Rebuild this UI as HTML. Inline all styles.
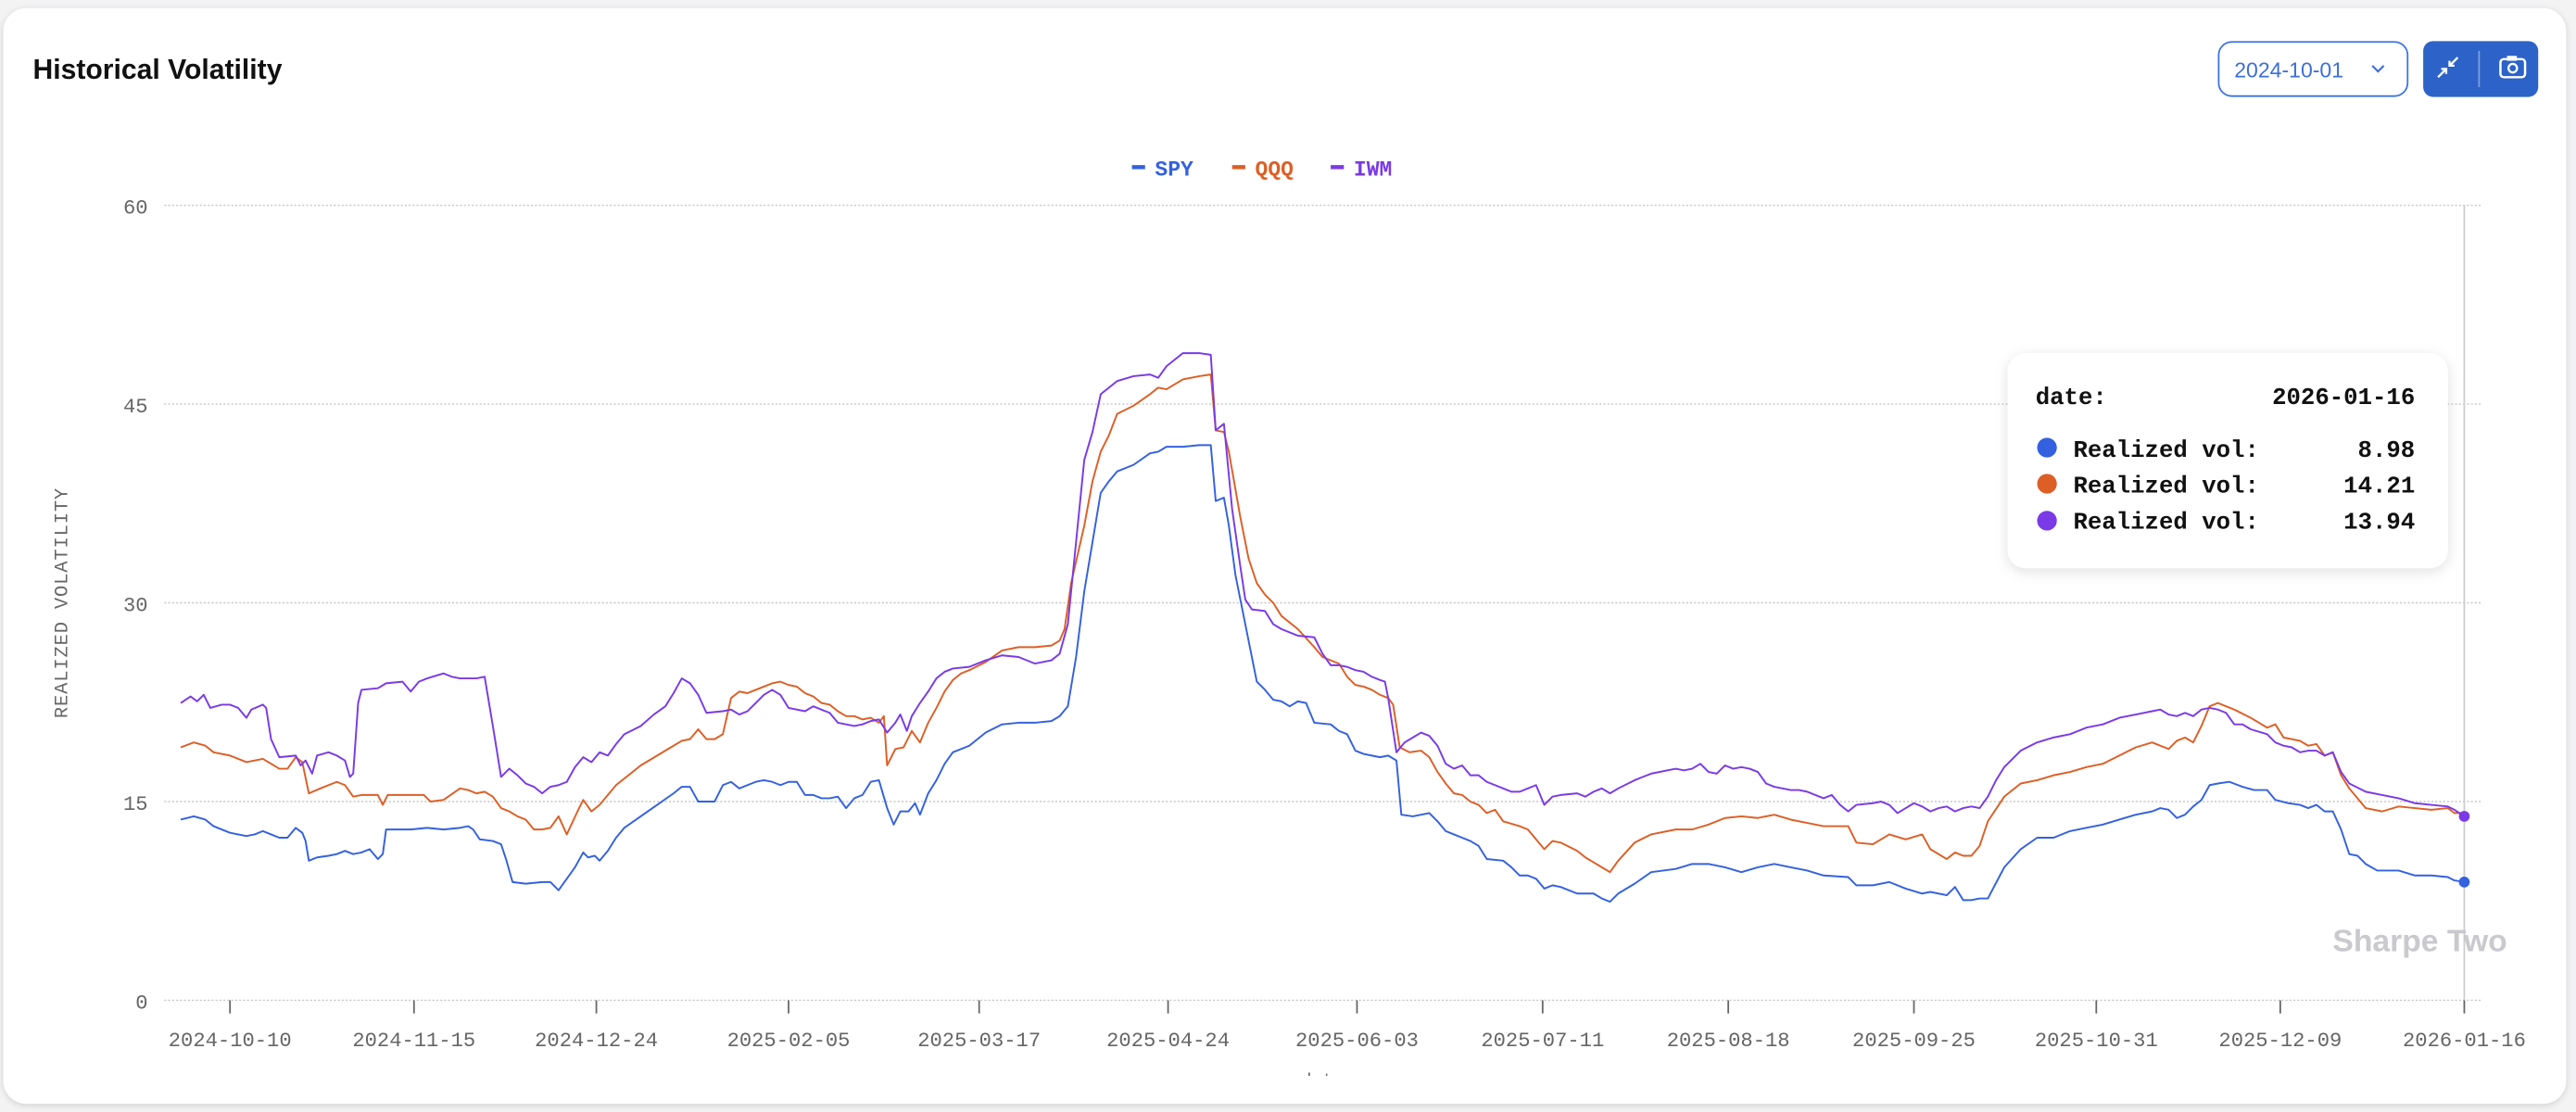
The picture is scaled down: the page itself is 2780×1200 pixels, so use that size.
<!DOCTYPE html>
<html><head><meta charset="utf-8"><style>
html,body{margin:0;padding:0;background:#fff;width:2780px;height:1200px;overflow:hidden}
svg{display:block}
</style></head><body>
<svg width="2780" height="1200" viewBox="0 0 1568 677" preserveAspectRatio="none" xmlns="http://www.w3.org/2000/svg">
<defs>
<filter id="sh" x="-10%" y="-10%" width="120%" height="130%"><feDropShadow dx="0" dy="2" stdDeviation="4" flood-color="#000" flood-opacity="0.12"/></filter>
<filter id="sh2" x="-5%" y="-5%" width="110%" height="110%"><feDropShadow dx="0" dy="1" stdDeviation="2" flood-color="#000" flood-opacity="0.15"/></filter>
<clipPath id="cl"><rect x="0" y="0" width="1568" height="655"/></clipPath>
</defs>
<rect x="0" y="0" width="1568" height="677" fill="#f3f3f4"/>
<rect x="2" y="5" width="1560" height="667" rx="14" fill="#fff" filter="url(#sh2)"/>
<text x="20" y="48" font-family="Liberation Sans, sans-serif" font-weight="bold" font-size="17" fill="#111">Historical Volatility</text>
<rect x="1350.5" y="25.5" width="115" height="33" rx="8" fill="#fff" stroke="#3c73e0" stroke-width="1"/>
<text x="1360" y="47" font-family="Liberation Sans, sans-serif" font-size="13" fill="#3c6fd8">2024-10-01</text>
<path d="M1444 40 l3.5 3.5 l3.5 -3.5" fill="none" stroke="#3c6fd8" stroke-width="1.2"/>
<rect x="1475" y="25" width="70" height="34" rx="6" fill="#2d63c8"/>
<line x1="1509" y1="31" x2="1509" y2="53" stroke="#7e9fe0" stroke-width="1"/>
<path d="M1484 47 l5 -5 M1486 42 h3 v3 M1496 35 l-5 5 M1494 40 h-3 v-3" stroke="#fff" stroke-width="1.3" fill="none"/>
<rect x="1522" y="36" width="15" height="11" rx="2" fill="none" stroke="#fff" stroke-width="1.4"/>
<rect x="1526" y="34" width="6" height="3" fill="#fff"/>
<circle cx="1529.5" cy="41.5" r="2.6" fill="none" stroke="#fff" stroke-width="1.3"/>
<g font-family="Liberation Mono, monospace" font-weight="bold" font-size="13">
<rect x="689" y="100.5" width="8" height="2.5" fill="#3461e0"/><text x="703" y="107" fill="#3461e0">SPY</text>
<rect x="750" y="100.5" width="8" height="2.5" fill="#dd5f26"/><text x="764" y="107" fill="#dd5f26">QQQ</text>
<rect x="810" y="100.5" width="8" height="2.5" fill="#7a3ae6"/><text x="824" y="107" fill="#7a3ae6">IWM</text>
</g>
<g stroke="#c8c8c8" stroke-width="0.8" stroke-dasharray="1.2 1.2">
<line x1="100" y1="125" x2="1510" y2="125"/><line x1="100" y1="246" x2="1510" y2="246"/>
<line x1="100" y1="367" x2="1510" y2="367"/><line x1="100" y1="488" x2="1510" y2="488"/>
<line x1="100" y1="609" x2="1510" y2="609"/>
</g>
<g font-family="Liberation Mono, monospace" font-size="12.5" fill="#666">
<text x="90" y="130" text-anchor="end">60</text><text x="90" y="251" text-anchor="end">45</text>
<text x="90" y="372" text-anchor="end">30</text><text x="90" y="493" text-anchor="end">15</text>
<text x="90" y="614" text-anchor="end">0</text>
</g>
<text transform="translate(41,367) rotate(-90)" text-anchor="middle" font-family="Liberation Mono, monospace" font-size="11.5" fill="#666" letter-spacing="0.5">REALIZED VOLATILITY</text>
<line x1="1500" y1="125" x2="1500" y2="612" stroke="#ccc" stroke-width="1"/>
<g stroke="#666" stroke-width="1">
<line x1="140" y1="609" x2="140" y2="617"/><line x1="252" y1="609" x2="252" y2="617"/><line x1="363" y1="609" x2="363" y2="617"/><line x1="480" y1="609" x2="480" y2="617"/><line x1="596" y1="609" x2="596" y2="617"/><line x1="711" y1="609" x2="711" y2="617"/><line x1="826" y1="609" x2="826" y2="617"/><line x1="939" y1="609" x2="939" y2="617"/><line x1="1052" y1="609" x2="1052" y2="617"/><line x1="1165" y1="609" x2="1165" y2="617"/><line x1="1276" y1="609" x2="1276" y2="617"/><line x1="1388" y1="609" x2="1388" y2="617"/><line x1="1500" y1="609" x2="1500" y2="617"/>
</g>
<g font-family="Liberation Mono, monospace" font-size="12.5" fill="#666" text-anchor="middle">
<text x="140" y="637">2024-10-10</text><text x="252" y="637">2024-11-15</text><text x="363" y="637">2024-12-24</text><text x="480" y="637">2025-02-05</text><text x="596" y="637">2025-03-17</text><text x="711" y="637">2025-04-24</text><text x="826" y="637">2025-06-03</text><text x="939" y="637">2025-07-11</text><text x="1052" y="637">2025-08-18</text><text x="1165" y="637">2025-09-25</text><text x="1276" y="637">2025-10-31</text><text x="1388" y="637">2025-12-09</text><text x="1500" y="637">2026-01-16</text>
<text x="805" y="661" font-size="11" clip-path="url(#cl)">date</text>
</g>
<text x="1473" y="579" text-anchor="middle" font-family="Liberation Sans, sans-serif" font-weight="bold" font-size="19" fill="#c9c9ce">Sharpe Two</text>
<g fill="none" stroke-width="1.1" stroke-linejoin="round">
<polyline stroke="#3461e0" points="110,499 118,497 125,499 130,503 140,507 150,509 155,508 160,506 165,508 170,510 175,510 180,504 184,507 186,512 188,524 193,522 200,521 205,520 210,518 215,520 220,519 225,517 230,523 233,520 235,505 240,505 250,505 260,504 270,505 280,504 285,503 288,505 292,511 300,512 305,514 308,523 312,537 320,538 330,537 335,537 340,542 345,535 350,528 355,519 358,522 362,521 365,524 370,518 375,510 380,504 390,497 400,490 410,483 415,479 420,479 425,488 430,488 435,488 440,478 445,476 450,480 455,478 460,476 465,475 470,476 475,478 480,476 485,476 490,484 495,484 500,486 505,486 510,485 515,492 520,486 525,484 530,476 535,475 540,492 544,502 548,494 553,494 557,489 560,496 565,483 570,475 575,465 580,458 590,454 595,450 600,446 610,441 620,440 630,440 640,439 645,436 650,430 655,400 660,360 665,330 670,300 675,293 680,287 690,283 700,276 705,275 710,272 720,272 730,271 737,271 740,305 745,303 748,320 752,350 760,390 765,415 770,420 775,426 780,427 785,430 790,427 795,428 800,440 810,441 815,445 820,447 825,457 830,459 835,460 840,461 845,460 850,463 853,496 860,497 865,496 870,495 875,500 880,506 885,508 890,510 895,512 900,515 905,523 915,524 920,528 925,533 930,533 935,535 940,541 945,539 950,540 960,544 970,544 975,547 980,549 985,544 995,538 1005,531 1020,529 1030,526 1040,526 1050,528 1060,531 1070,528 1080,526 1090,528 1100,530 1110,533 1125,534 1130,539 1140,539 1150,537 1160,541 1170,544 1175,543 1185,545 1190,540 1195,548 1200,548 1205,547 1210,547 1220,528 1230,517 1240,510 1250,510 1260,506 1270,504 1280,502 1290,499 1300,496 1310,494 1315,492 1320,493 1325,498 1330,496 1335,491 1340,487 1345,478 1350,477 1357,476 1365,479 1372,481 1380,481 1385,487 1393,489 1400,490 1405,492 1410,490 1415,494 1420,494 1425,505 1430,520 1435,521 1440,526 1447,530 1460,530 1470,533 1480,533 1490,534 1494,536 1500,537"/>
<polyline stroke="#dd5f26" points="110,455 118,452 125,454 130,458 140,460 150,464 155,463 160,462 165,465 170,468 175,468 180,461 184,464 188,483 195,480 205,476 210,478 215,485 220,484 230,484 233,490 236,484 240,484 250,484 258,484 262,488 270,487 280,480 285,481 290,483 295,482 300,485 305,492 310,494 315,497 320,499 325,505 330,505 335,504 340,497 345,508 352,493 355,487 360,494 365,490 375,478 385,470 390,466 400,460 410,454 415,451 420,450 425,444 430,450 435,450 440,447 445,425 450,421 455,422 460,420 465,418 470,416 475,415 480,417 485,418 490,422 495,424 500,428 505,429 510,433 515,436 520,436 525,438 530,437 535,440 538,436 540,466 545,456 550,455 555,445 560,452 565,440 570,431 575,421 580,414 585,410 590,408 600,403 610,396 620,394 630,394 640,393 645,390 648,383 652,355 660,320 665,293 670,275 675,265 680,252 690,247 700,240 705,236 710,237 720,231 730,229 737,228 740,262 745,263 748,275 755,315 760,340 765,355 770,362 775,367 780,375 790,383 800,394 805,400 815,404 820,412 825,417 830,418 835,420 840,423 845,425 848,429 852,455 858,458 865,457 870,461 875,470 880,477 885,483 890,484 895,488 900,490 905,495 910,493 915,500 925,503 930,505 935,511 940,517 945,512 950,513 960,518 965,522 970,525 975,528 980,531 985,524 995,513 1005,508 1020,505 1030,505 1040,502 1050,498 1060,497 1070,498 1080,496 1090,499 1100,501 1110,503 1125,503 1130,513 1140,514 1150,508 1160,511 1170,508 1175,517 1185,523 1190,519 1195,521 1200,521 1205,515 1210,500 1220,485 1230,477 1240,475 1250,472 1260,470 1270,467 1280,465 1290,460 1300,455 1310,452 1320,456 1325,451 1330,449 1335,452 1340,442 1345,430 1350,428 1355,430 1360,432 1370,437 1380,443 1385,441 1390,449 1400,451 1405,454 1410,453 1415,460 1420,458 1425,472 1430,480 1440,492 1450,494 1460,491 1470,492 1480,493 1490,492 1494,495 1500,495"/>
<polyline stroke="#7a3ae6" points="110,428 116,424 120,427 124,423 128,431 135,429 140,429 145,431 150,437 153,432 160,429 162,431 165,450 170,461 180,460 183,466 186,463 190,471 193,460 200,458 205,460 210,463 213,473 215,471 218,428 220,420 230,419 235,416 245,415 250,421 255,415 260,413 270,410 275,412 280,413 290,413 295,412 300,442 305,473 310,468 315,472 320,477 325,479 330,483 335,479 340,478 345,476 350,467 355,461 360,464 365,458 370,460 375,453 380,447 390,442 398,435 405,430 410,422 415,413 420,416 425,423 430,434 440,433 445,432 450,435 455,433 460,428 465,423 470,420 475,423 480,431 490,433 495,430 505,434 510,440 520,442 525,441 530,439 535,438 540,446 545,440 548,435 552,445 555,436 560,428 565,421 570,413 575,409 580,407 590,406 600,402 610,399 620,400 630,404 640,402 645,398 650,380 655,330 660,280 665,263 670,240 680,232 690,229 700,228 705,230 710,223 720,215 730,215 737,216 740,262 745,258 750,310 755,345 758,365 762,371 770,372 775,380 780,383 790,387 800,388 805,398 810,405 815,405 820,406 825,408 830,409 835,412 840,414 843,415 845,425 850,458 855,452 860,449 865,446 870,448 875,454 880,465 885,468 890,466 895,472 900,472 905,476 910,478 915,480 920,482 925,482 930,480 935,478 940,490 945,485 950,484 960,483 965,485 970,482 975,480 980,483 985,480 995,475 1000,473 1005,471 1015,469 1020,468 1025,469 1030,468 1035,465 1040,470 1045,471 1050,466 1055,468 1060,467 1065,468 1070,470 1075,477 1080,479 1090,481 1095,481 1100,482 1110,486 1115,484 1120,490 1125,494 1130,490 1140,489 1145,488 1150,490 1155,495 1160,492 1165,489 1170,491 1175,494 1180,492 1185,491 1190,494 1195,492 1200,491 1205,492 1210,485 1215,475 1220,467 1225,462 1230,457 1240,452 1250,449 1260,447 1270,443 1280,441 1290,437 1300,435 1310,433 1315,432 1320,435 1325,436 1330,434 1335,436 1340,432 1345,431 1350,432 1355,434 1360,441 1365,441 1370,444 1380,447 1385,452 1390,454 1395,455 1400,458 1405,457 1410,457 1415,460 1420,458 1425,470 1430,477 1440,482 1450,484 1460,486 1470,489 1480,490 1490,491 1494,493 1500,497"/>
</g>
<circle cx="1500" cy="537" r="3.3" fill="#3461e0"/>
<circle cx="1500" cy="497" r="3.3" fill="#7a3ae6"/>
<rect x="1222" y="215" width="268" height="131" rx="11" fill="#fff" filter="url(#sh)"/>
<g font-family="Liberation Mono, monospace" font-weight="bold" font-size="14.5" fill="#111">
<text x="1239" y="246">date:</text><text x="1470" y="246" text-anchor="end">2026-01-16</text>
<circle cx="1246" cy="272.5" r="6" fill="#3461e0"/><text x="1262" y="278">Realized vol:</text><text x="1470" y="278" text-anchor="end">8.98 </text>
<circle cx="1246" cy="294.5" r="6" fill="#dd5f26"/><text x="1262" y="300">Realized vol:</text><text x="1470" y="300" text-anchor="end">14.21</text>
<circle cx="1246" cy="317" r="6" fill="#7a3ae6"/><text x="1262" y="322">Realized vol:</text><text x="1470" y="322" text-anchor="end">13.94</text>
</g>
</svg>
</body></html>
